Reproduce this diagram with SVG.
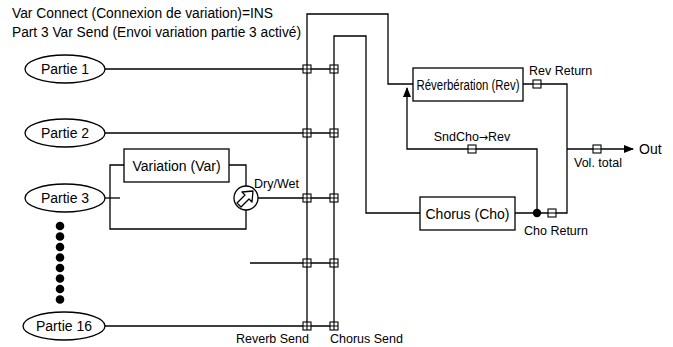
<svg xmlns="http://www.w3.org/2000/svg" width="673" height="347" viewBox="0 0 673 347">
<defs>
  <style>
    .ln{fill:none;stroke:#000;stroke-width:1.3}
    .bx{fill:#fff;stroke:#000;stroke-width:1.3}
    .t{font-family:"Liberation Sans",Arial,sans-serif;font-size:14px;fill:#000}
    .s{font-family:"Liberation Sans",Arial,sans-serif;font-size:12.5px;fill:#000}
  </style>
  <g id="xp"><rect x="-4" y="-4" width="8" height="8" fill="#fff" stroke="#000" stroke-width="1.1"/><path d="M-4 0H4M0 -4V4" stroke="#000" stroke-width="1.1"/></g>
  <g id="sq"><rect x="-4" y="-4" width="8" height="8" fill="#fff" stroke="#000" stroke-width="1.1"/><path d="M-4 0H4" stroke="#000" stroke-width="1.1"/></g>
  <marker id="ah" markerWidth="10" markerHeight="8" refX="9" refY="4" orient="auto" markerUnits="userSpaceOnUse"><path d="M0 0L10 4L0 8Z" fill="#000"/></marker>
</defs>
<rect width="673" height="347" fill="#fff"/>
<text class="t" x="12" y="18" textLength="261" lengthAdjust="spacingAndGlyphs">Var Connect (Connexion de variation)=INS</text>
<text class="t" x="12" y="37" textLength="289" lengthAdjust="spacingAndGlyphs">Part 3 Var Send (Envoi variation partie 3 activé)</text>

<g id="connectors">
  <path class="ln" d="M105 69H334M105 133H334M258 198H334M250 263H334M105 326H334"/>
  <path class="ln" d="M307 326V14H388V84H413"/>
  <path class="ln" d="M334 326V36H366V213H420"/>
  <path class="ln" d="M105 198H120"/>
  <path class="ln" d="M124 165H110V229H246V210M229 165H246V186"/>
  <path class="ln" d="M523 84H567V213H515"/>
  <path class="ln" d="M537 213V149H407V88" marker-end="url(#ah)"/>
  <path class="ln" d="M567 149H633" marker-end="url(#ah)"/>
  <circle cx="537" cy="213" r="4.2" fill="#000"/>
  <use href="#xp" x="307" y="69"/><use href="#xp" x="334" y="69"/>
  <use href="#xp" x="307" y="133"/><use href="#xp" x="334" y="133"/>
  <use href="#xp" x="307" y="198"/><use href="#xp" x="334" y="198"/>
  <use href="#xp" x="307" y="263"/><use href="#xp" x="334" y="263"/>
  <use href="#xp" x="307" y="326"/><use href="#xp" x="334" y="326"/>
  <use href="#sq" x="537" y="84"/>
  <use href="#sq" x="472" y="149"/>
  <use href="#sq" x="552" y="213"/>
  <use href="#sq" x="597" y="149"/>
</g>

<g id="partie1"><ellipse class="bx" cx="65" cy="69" rx="40" ry="14"/><text class="t" x="65" y="74" text-anchor="middle">Partie 1</text></g>
<g id="partie2"><ellipse class="bx" cx="65" cy="133" rx="40" ry="14"/><text class="t" x="65" y="138" text-anchor="middle">Partie 2</text></g>
<g id="partie3"><ellipse class="bx" cx="65" cy="198" rx="40" ry="14"/><text class="t" x="65" y="203" text-anchor="middle">Partie 3</text></g>
<g id="partie16"><ellipse class="bx" cx="64" cy="326" rx="41" ry="14"/><text class="t" x="64" y="331" text-anchor="middle">Partie 16</text></g>
<g id="dots" fill="#000">
  <circle cx="60" cy="226" r="4.3"/><circle cx="60" cy="236.5" r="4.3"/><circle cx="60" cy="247" r="4.3"/><circle cx="60" cy="257.5" r="4.3"/>
  <circle cx="60" cy="268" r="4.3"/><circle cx="60" cy="278.5" r="4.3"/><circle cx="60" cy="289" r="4.3"/><circle cx="60" cy="299.5" r="4.3"/>
</g>

<g id="variation"><rect class="bx" x="124" y="149" width="105" height="33"/><text class="t" x="176.5" y="170.5" text-anchor="middle">Variation (Var)</text></g>
<g id="drywet">
  <circle class="bx" cx="246" cy="198" r="12"/>
  <path class="ln" d="M241 207L237 203L245 195L242 192L253 191L252 202L249 199Z" stroke-width="1.3" stroke-linejoin="round"/>
  <text class="s" x="254" y="188">Dry/Wet</text>
</g>
<g id="reverb"><rect class="bx" x="413" y="68" width="110" height="33"/><text class="t" x="468" y="89.5" text-anchor="middle" textLength="103" lengthAdjust="spacingAndGlyphs">Réverbération (Rev)</text></g>
<g id="chorus"><rect class="bx" x="420" y="197" width="95" height="33"/><text class="t" x="467.5" y="218.5" text-anchor="middle">Chorus (Cho)</text></g>

<text class="s" x="529" y="75">Rev Return</text>
<text class="s" x="472" y="141" text-anchor="middle">SndCho<tspan font-family="DejaVu Sans" font-size="11">→</tspan>Rev</text>
<text class="s" x="574" y="167">Vol. total</text>
<text class="t" x="639" y="154">Out</text>
<text class="s" x="524" y="235">Cho Return</text>
<text class="s" x="236" y="343">Reverb Send</text>
<text class="s" x="330" y="343">Chorus Send</text>
</svg>
